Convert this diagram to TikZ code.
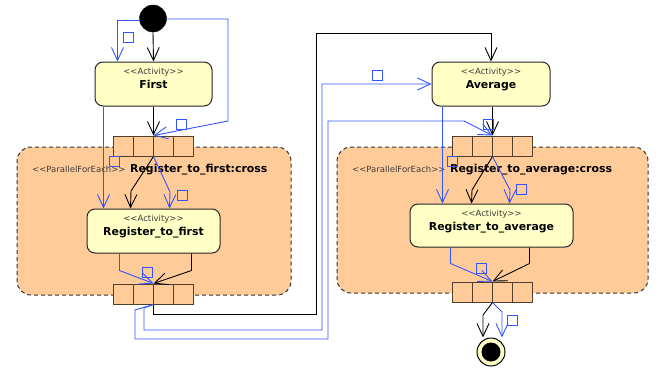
\documentclass[tikz,border=0pt]{standalone}
\usepackage{fontspec}
\setmainfont{DejaVu Sans}
\usetikzlibrary{arrows.meta,calc}
\definecolor{flowblue}{RGB}{51,85,255}
\definecolor{actfill}{RGB}{255,255,198}
\definecolor{regfill}{RGB}{255,204,153}
\definecolor{pinborder}{RGB}{80,64,48}
\definecolor{stereo}{RGB}{60,60,60}
\newcommand\dlt{<\kern0pt<}
\newcommand\dgt{>\kern0pt>}
\begin{document}
\begin{tikzpicture}[x=1pt,y=-1pt,
  region/.style={draw=black!80, dash pattern=on 4pt off 3pt, fill=regfill, rounded corners=14pt, line width=1pt, inner sep=0},
  actbox/.style={draw=black!85, fill=actfill, rounded corners=8pt, line width=1pt, inner sep=0},
  pincell/.style={draw=pinborder, fill=regfill, minimum width=20pt, minimum height=20pt, inner sep=0, line width=1pt},
  stereotxt/.style={anchor=base, inner sep=0, text=stereo, font=\fontsize{8.5}{10}\selectfont},
  nametxt/.style={anchor=base, inner sep=0, font=\fontsize{10.9}{13}\selectfont\bfseries},
  regstereo/.style={anchor=base west, inner sep=0, text=stereo, font=\fontsize{8.5}{10}\selectfont},
  regname/.style={anchor=base west, inner sep=0, font=\fontsize{10.9}{13}\selectfont\bfseries},
  sqr/.style={draw=flowblue, minimum size=10pt, inner sep=0, line width=1pt},
  bk/.style={draw=black, line width=0.9pt, -{Straight Barb[length=13pt,width=12pt]}},
  bl/.style={draw=flowblue, line width=0.9pt, -{Straight Barb[length=13pt,width=12pt]}},
]
\useasboundingbox (0,0) rectangle (661,367);

% regions
\node[region, minimum width=274pt, minimum height=148pt] (regL) at (154,221) {};
\node[region, minimum width=311pt, minimum height=146pt] (regR) at (492.5,220) {};

% initial and final
\node[circle, fill=black, draw=black, minimum size=27pt, inner sep=0] (init) at (153,18.5) {};
\node[circle, fill=actfill, draw=black, line width=1pt, minimum size=28pt, inner sep=0] (fin) at (491,352) {};
\node[circle, fill=black, minimum size=19pt, inner sep=0] (finin) at (fin.center) {};

% activity boxes
\node[actbox, minimum width=117pt, minimum height=44pt] (first) at (153.5,84) {};
\node[actbox, minimum width=133pt, minimum height=44pt] (rfirst) at (153.5,231) {};
\node[actbox, minimum width=118pt, minimum height=44pt] (average) at (491,84) {};
\node[actbox, minimum width=163pt, minimum height=43pt] (ravg) at (491.5,225.5) {};

\node[stereotxt] (firstS) at (153.5,74) {\dlt Activity\dgt};
\node[nametxt] (firstN) at (153.5,88) {First};
\node[stereotxt] (rfirstS) at (153.5,221) {\dlt Activity\dgt};
\node[nametxt] (rfirstN) at (153.5,235) {Register\_to\_first};
\node[stereotxt] (averageS) at (491,74) {\dlt Activity\dgt};
\node[nametxt] (averageN) at (491,88) {Average};
\node[stereotxt] (ravgS) at (491.5,216) {\dlt Activity\dgt};
\node[nametxt] (ravgN) at (491.5,230) {Register\_to\_average};

% region labels
\node[regstereo] (regLS) at (32,172) {\dlt ParallelForEach\dgt};
\node[regname] (regLN) at (130,172) {Register\_to\_first:cross};
\node[regstereo] (regRS) at (352,172) {\dlt ParallelForEach\dgt};
\node[regname] (regRN) at (450,172) {Register\_to\_average:cross};

% pins
\foreach \i/\x in {1/123,2/143,3/163,4/183}{
  \node[pincell] (ltp\i) at (\x,146) {};
  \node[pincell] (lbp\i) at (\x,294) {};
}
\foreach \i/\x in {1/462,2/482,3/502,4/522}{
  \node[pincell] (rtp\i) at (\x,146) {};
  \node[pincell] (rbp\i) at (\x,292) {};
}

% connectors left
\draw[bk] (init.south) -- (first.north);
\draw[bl] (init.190) -| ($(first.north west)+(23,0)$);
\draw[bl] (init.358) -| (228,121) -- (ltp2.north east);
\draw[bk] (first.south) -- (ltp2.north east);
\draw[bl] ($(first.south west)+(9,0)$) -- ($(rfirst.north west)+(17,0)$);
\draw[bk] (ltp2.south east) -- (131,191) -- ($(rfirst.north west)+(44,0)$);
\draw[bl] (ltp2.south east) -- (170,192) -- ($(rfirst.north west)+(83,0)$);
\draw[bl] ($(rfirst.south west)+(33,0)$) -- ++(0,17) -- (lbp2.north east);
\draw[bk] ($(rfirst.south west)+(105,0)$) -- ++(0,17) -- (lbp2.north east);

% long connectors
\draw[bk] (lbp2.south east) -- ++(0,10) -| (316,33) -| (average.north);
\draw[bl] (lbp2.south east) -- (144,308) -- (144,330) -| (322,84) -- (average.west);
\draw[bl] (lbp2.south east) -- (135,310) -- (135,339) -| (328,121) -- (464,121) -- (rtp2.north east);

% connectors right
\draw[bk] (average.south -| rtp2.north east) -- (rtp2.north east);
\draw[bl] ($(average.south west)+(11,0)$) -- ($(ravg.north west)+(33,0)$);
\draw[bk] (rtp2.south east) -- (472,190) -- ($(ravg.north west)+(62,0)$);
\draw[bl] (rtp2.south east) -- (510,190) -- ($(ravg.north west)+(100,0)$);
\draw[bl] ($(ravg.south west)+(41,0)$) -- ++(0,16) -- (rbp2.north east);
\draw[bk] ($(ravg.south west)+(120,0)$) -- ++(0,16) -- (rbp2.north east);
\draw[bk] (rbp2.south east) -- (483,315) -- ($(fin.north)+(-8,0)$);
\draw[bl] (rbp2.south east) -- (502,312) -- ($(fin.north)+(11,0)$);

% object flow squares
\node[sqr] (sq1) at (128,37) {};
\node[sqr] (sq2) at (181,124) {};
\node[sqr] (sq3) at (114,161) {};
\node[sqr] (sq4) at (182,195) {};
\node[sqr] (sq5) at (147,272) {};
\node[sqr] (sq6) at (377,75) {};
\node[sqr] (sq7) at (488,124) {};
\node[sqr] (sq8) at (452,161) {};
\node[sqr] (sq9) at (521,189) {};
\node[sqr] (sq10) at (481,268) {};
\node[sqr] (sq11) at (512,320) {};
\end{tikzpicture}
\end{document}
